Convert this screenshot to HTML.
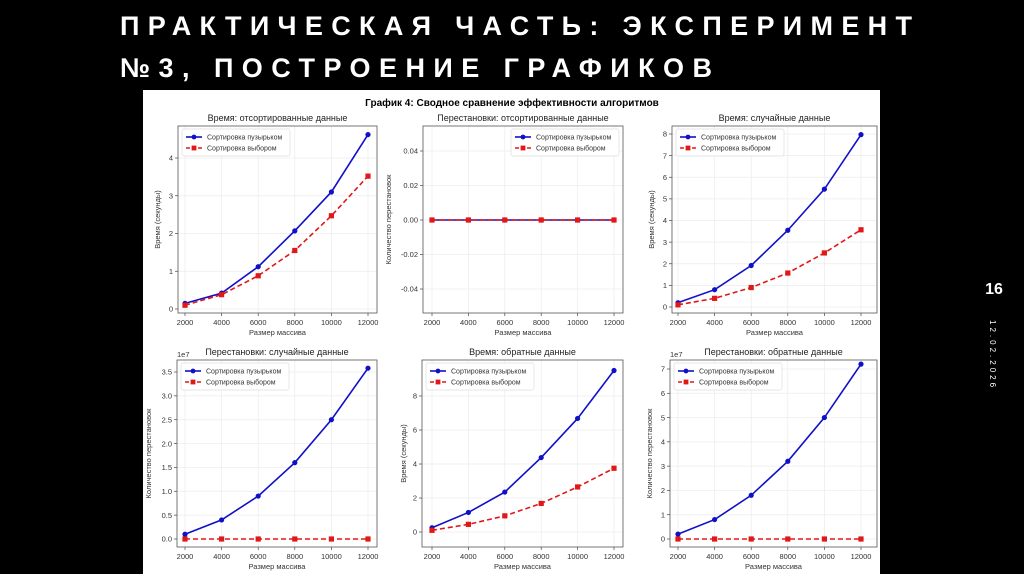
<!DOCTYPE html>
<html><head><meta charset="utf-8">
<style>
html,body{margin:0;padding:0;background:#000;width:1024px;height:574px;overflow:hidden}
svg{display:block}
</style></head>
<body>
<svg id="s" width="1024" height="574" viewBox="0 0 1024 574" xmlns="http://www.w3.org/2000/svg" font-family="'Liberation Sans','DejaVu Sans',sans-serif">
<rect x="0" y="0" width="1024" height="574" fill="#000"/>
<text x="120" y="35" fill="#fff" font-size="27" font-weight="bold" textLength="792" lengthAdjust="spacing">ПРАКТИЧЕСКАЯ ЧАСТЬ: ЭКСПЕРИМЕНТ</text>
<text x="120" y="77" fill="#fff" font-size="27" font-weight="bold" textLength="592" lengthAdjust="spacing">№3, ПОСТРОЕНИЕ ГРАФИКОВ</text>
<text x="994" y="294" fill="#fff" font-size="16" font-weight="bold" text-anchor="middle">16</text>
<text x="0" y="0" fill="#fff" font-size="8" letter-spacing="3" transform="translate(990,320) rotate(90)">12.02.2026</text>
<rect x="143" y="90" width="737" height="484" fill="#fff"/>
<text x="512" y="106" font-size="10" font-weight="bold" text-anchor="middle" fill="#000">График 4: Сводное сравнение эффективности алгоритмов</text>
<g id="plots"></g>
</svg>
<script>
const xCategories = [2000, 4000, 6000, 8000, 10000, 12000];
const p1Bubble = [0.15, 0.42, 1.12, 2.07, 3.1, 4.62];
const p1Select = [0.1, 0.38, 0.88, 1.55, 2.47, 3.52];
const p2Bubble = [0, 0, 0, 0, 0, 0];
const p2Select = [0, 0, 0, 0, 0, 0];
const p3Bubble = [0.2, 0.8, 1.92, 3.55, 5.45, 7.97];
const p3Select = [0.1, 0.4, 0.9, 1.57, 2.5, 3.57];
const p4Bubble = [0.1, 0.4, 0.9, 1.6, 2.5, 3.58];
const p4Select = [0, 0, 0, 0, 0, 0];
const p5Bubble = [0.25, 1.15, 2.35, 4.38, 6.68, 9.5];
const p5Select = [0.1, 0.45, 0.95, 1.68, 2.65, 3.75];
const p6Bubble = [0.2, 0.8, 1.8, 3.2, 5.0, 7.2];
const p6Select = [0, 0, 0, 0, 0, 0];
const p1Ticks = ['0','1','2','3','4'];
const p2Ticks = ['-0.04','-0.02','0.00','0.02','0.04'];
const p3Ticks = ['0','1','2','3','4','5','6','7','8'];
const p4Ticks = ['0.0','0.5','1.0','1.5','2.0','2.5','3.0','3.5'];
const p5Ticks = ['0','2','4','6','8'];
const p6Ticks = ['0','1','2','3','4','5','6','7'];

const NS = 'http://www.w3.org/2000/svg';
const root = document.getElementById('plots');
function mk(tag, attrs, parent, txt) {
  const e = document.createElementNS(NS, tag);
  for (const k in attrs) e.setAttribute(k, attrs[k]);
  if (txt !== undefined) e.textContent = txt;
  parent.appendChild(e);
  return e;
}
function panel(cfg, bub, sel, ticks) {
  const g = mk('g', {}, root);
  
  
  const {L, R, T, B} = cfg;
  const xs = v => cfg.xp0 + (v - 2000) * (cfg.xp1 - cfg.xp0) / 10000;
  const ys = v => cfg.yp0 + (v - cfg.yv0) * (cfg.yp1 - cfg.yp0) / (cfg.yv1 - cfg.yv0);
  mk('rect', {x: L, y: T, width: R - L, height: B - T, fill: '#fff'}, g);
  // grid + x ticks
  xCategories.forEach(c => {
    const x = xs(c);
    mk('line', {x1: x, x2: x, y1: T, y2: B, stroke: '#ececec', 'stroke-width': 0.7}, g);
    mk('line', {x1: x, x2: x, y1: B, y2: B + 3, stroke: '#444', 'stroke-width': 0.7}, g);
    const t = mk('text', {x: x, y: B + 12, 'font-size': 7.5, 'text-anchor': 'middle', fill: '#333'}, g, String(c));
    
    
  });
  ticks.forEach(tl => {
    const y = ys(parseFloat(tl));
    mk('line', {x1: L, x2: R, y1: y, y2: y, stroke: '#ececec', 'stroke-width': 0.7}, g);
    mk('line', {x1: L - 3, x2: L, y1: y, y2: y, stroke: '#444', 'stroke-width': 0.7}, g);
    const t = mk('text', {x: L - 5, y: y + 2.7, 'font-size': 7.5, 'text-anchor': 'end', fill: '#333'}, g, tl);
    
    
  });
  mk('rect', {x: L, y: T, width: R - L, height: B - T, fill: 'none', stroke: '#555', 'stroke-width': 0.8}, g);
  if (cfg.exp) mk('text', {x: L, y: T - 3, 'font-size': 7.5, fill: '#333'}, g, cfg.exp);
  const tt = mk('text', {x: (L + R) / 2, y: T - 5, 'font-size': 9, 'text-anchor': 'middle', fill: '#222'}, g, cfg.title);
  
  
  const xl = mk('text', {x: (L + R) / 2, y: B + 22, 'font-size': 7.5, 'text-anchor': 'middle', fill: '#333'}, g, 'Размер массива');
  
  
  const yx = L - cfg.ylOff, yy = (T + B) / 2;
  const yl = mk('text', {x: yx, y: yy, 'font-size': 7.5, 'text-anchor': 'middle', fill: '#333', transform: `rotate(-90 ${yx} ${yy})`}, g, cfg.ylabel);
  
  
  // series
  const bpts = xCategories.map((c, i) => xs(c) + ',' + ys(bub[i])).join(' ');
  const spts = xCategories.map((c, i) => xs(c) + ',' + ys(sel[i])).join(' ');
  const bl = mk('polyline', {points: bpts, fill: 'none', stroke: '#1010c8', 'stroke-width': 1.6}, g);
  
  
  xCategories.forEach((c, i) => {
    const p = mk('circle', {cx: xs(c), cy: ys(bub[i]), r: 2.6, fill: '#1010c8'}, g);
    
    
  });
  const sl = mk('polyline', {points: spts, fill: 'none', stroke: '#e01818', 'stroke-width': 1.6, 'stroke-dasharray': '5 3'}, g);
  
  
  xCategories.forEach((c, i) => {
    const p = mk('rect', {x: xs(c) - 2.6, y: ys(sel[i]) - 2.6, width: 5.2, height: 5.2, fill: '#e01818'}, g);
    
    
  });
  // legend
  const lw = 108, lh = 27;
  const lx = cfg.legendRight ? R - lw - 4 : L + 4, ly = T + 3;
  const lg = mk('g', {}, g);
  
  
  mk('rect', {x: lx, y: ly, width: lw, height: lh, fill: '#fff', stroke: '#ddd', 'stroke-width': 0.7, rx: 2}, lg);
  mk('line', {x1: lx + 4, x2: lx + 20, y1: ly + 8, y2: ly + 8, stroke: '#1010c8', 'stroke-width': 1.6}, lg);
  mk('circle', {cx: lx + 12, cy: ly + 8, r: 2.4, fill: '#1010c8'}, lg);
  mk('text', {x: lx + 25, y: ly + 10.5, 'font-size': 7, fill: '#333'}, lg, 'Сортировка пузырьком');
  mk('line', {x1: lx + 4, x2: lx + 20, y1: ly + 19, y2: ly + 19, stroke: '#e01818', 'stroke-width': 1.6, 'stroke-dasharray': '4 2'}, lg);
  mk('rect', {x: lx + 9.6, y: ly + 16.6, width: 4.8, height: 4.8, fill: '#e01818'}, lg);
  mk('text', {x: lx + 25, y: ly + 21.5, 'font-size': 7, fill: '#333'}, lg, 'Сортировка выбором');
}
panel({name:'chart-time-sorted', L:178, R:377, T:126, B:313, xp0:185, xp1:368, yv0:0, yp0:309, yv1:4, yp1:158, title:'Время: отсортированные данные', ylabel:'Время (секунды)', ylOff:18}, p1Bubble, p1Select, p1Ticks);
panel({name:'chart-swaps-sorted', L:423, R:623, T:126, B:313, xp0:432, xp1:614, yv0:-0.04, yp0:289, yv1:0.04, yp1:151, title:'Перестановки: отсортированные данные', ylabel:'Количество перестановок', ylOff:32, legendRight:true}, p2Bubble, p2Select, p2Ticks);
panel({name:'chart-time-random', L:672, R:877, T:126, B:313, xp0:678, xp1:861, yv0:0, yp0:307, yv1:8, yp1:134, title:'Время: случайные данные', ylabel:'Время (секунды)', ylOff:18}, p3Bubble, p3Select, p3Ticks);
panel({name:'chart-swaps-random', L:177, R:377, T:360, B:547, xp0:185, xp1:368, yv0:0, yp0:539, yv1:3.5, yp1:372, title:'Перестановки: случайные данные', ylabel:'Количество перестановок', ylOff:26, exp:'1e7'}, p4Bubble, p4Select, p4Ticks);
panel({name:'chart-time-reversed', L:422, R:623, T:360, B:547, xp0:432, xp1:614, yv0:0, yp0:532, yv1:8, yp1:396, title:'Время: обратные данные', ylabel:'Время (секунды)', ylOff:16}, p5Bubble, p5Select, p5Ticks);
panel({name:'chart-swaps-reversed', L:670, R:877, T:360, B:547, xp0:678, xp1:861, yv0:0, yp0:539, yv1:7, yp1:369, title:'Перестановки: обратные данные', ylabel:'Количество перестановок', ylOff:18, exp:'1e7'}, p6Bubble, p6Select, p6Ticks);
</script>
</body></html>
